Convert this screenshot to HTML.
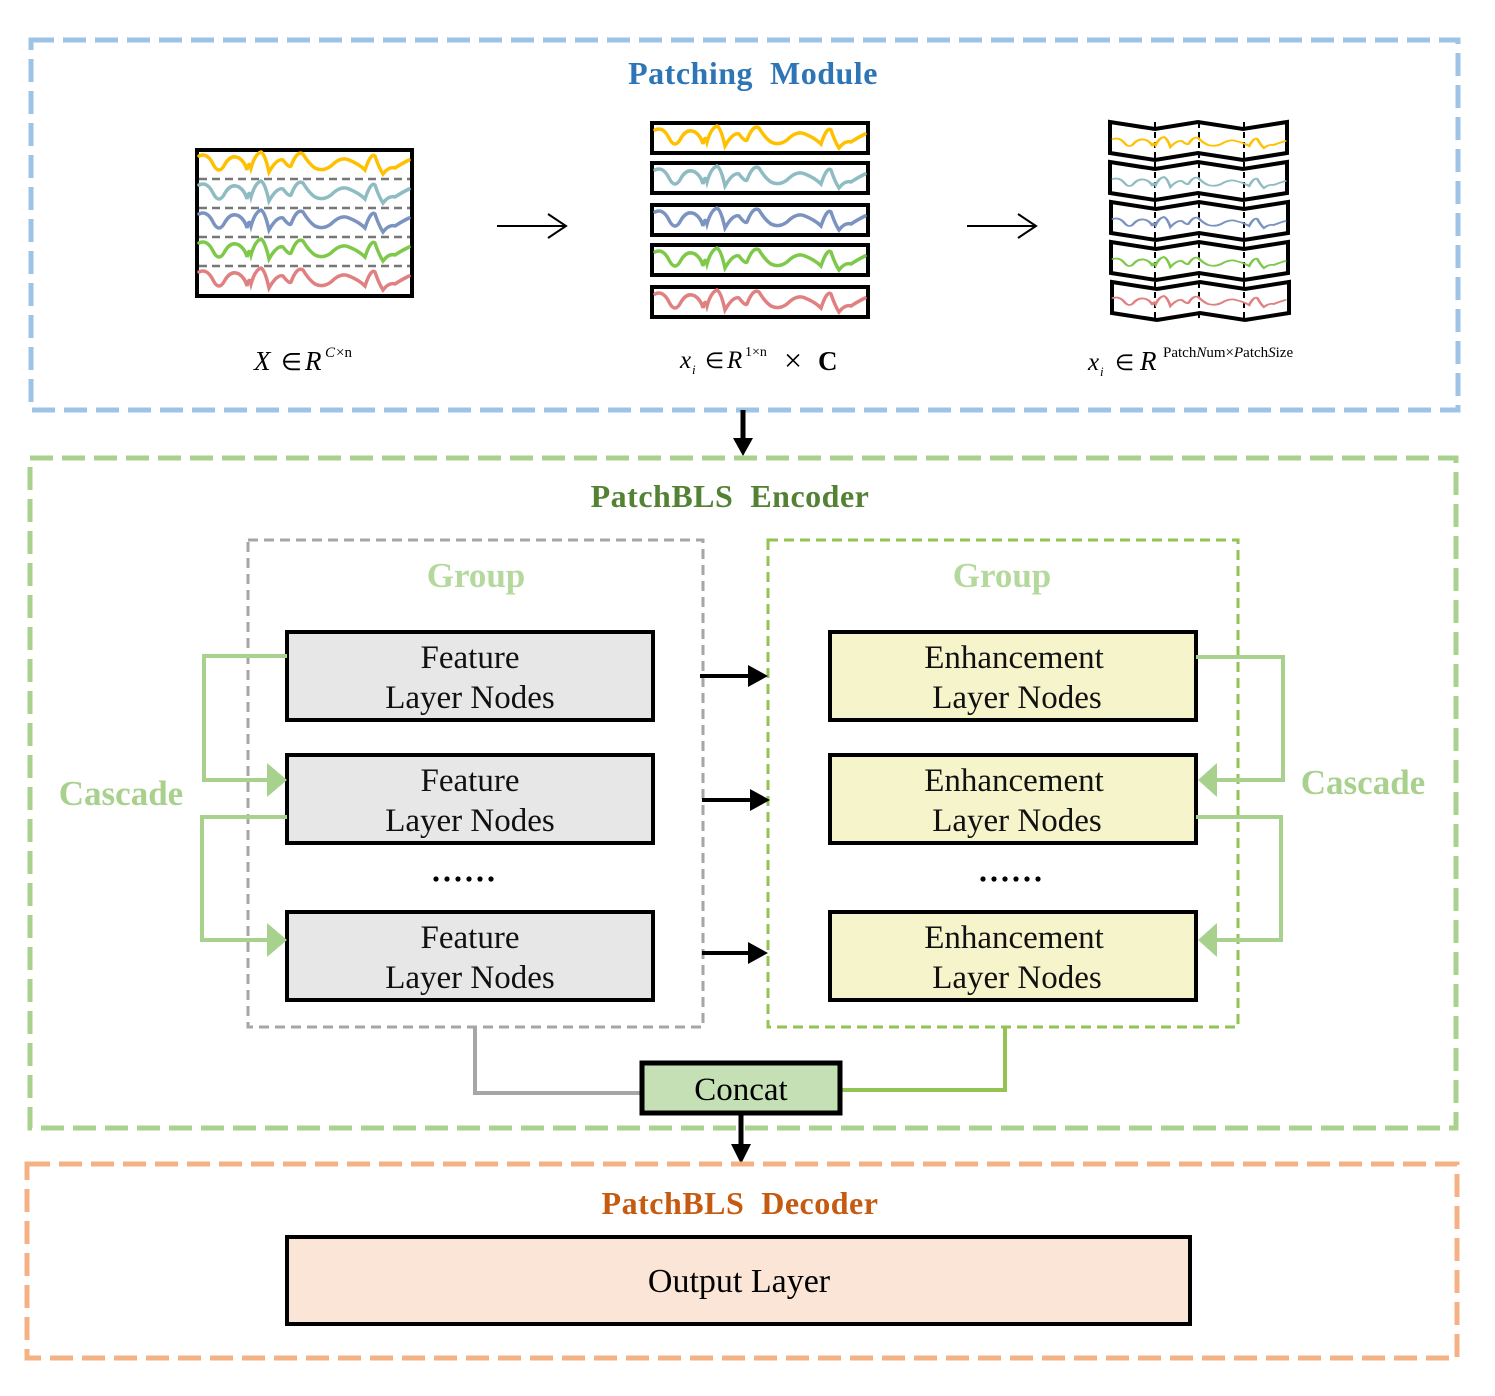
<!DOCTYPE html>
<html><head><meta charset="utf-8"><style>
html,body{margin:0;padding:0;background:#fff;}
svg{display:block;}
text{font-family:"Liberation Serif",serif;white-space:pre;}
</style></head><body>
<svg width="1495" height="1396" viewBox="0 0 1495 1396" xmlns="http://www.w3.org/2000/svg">
<defs>
<path id="wv" fill="none" stroke-width="3.5" stroke-linecap="round" d="M0,-8 Q8,-12 14,0 Q20,12 26,0 Q32,-10 40,-6 Q46,-2 48,6 Q50,-4 52,4 Q56,-10 62,-12 Q66,-10 70,8 Q78,-6 84,-4 Q90,4 92,2 Q98,-14 104,-10 Q110,0 116,4 Q124,8 132,2 Q142,-8 150,-4 Q160,0 166,6 Q172,-12 176,-8 Q180,4 184,10 Q190,2 196,4 Q202,0 210,-4"/>
</defs>

<rect x="31" y="40" width="1427" height="370" fill="none" stroke="#9dc3e6" stroke-width="5" stroke-dasharray="23 9"/>
<text x="753" y="84" text-anchor="middle" font-size="32" font-weight="bold" fill="#2e75b6" letter-spacing="0.5">Patching  Module</text>

<rect x="197" y="150" width="215" height="146" fill="#fff" stroke="#000" stroke-width="4"/>
<g stroke="#777" stroke-width="2.5" stroke-dasharray="8 5">
<line x1="199" y1="179" x2="410" y2="179"/><line x1="199" y1="208" x2="410" y2="208"/>
<line x1="199" y1="237" x2="410" y2="237"/><line x1="199" y1="266" x2="410" y2="266"/>
</g>
<use href="#wv" x="199" y="164" stroke="#ffc000"/>
<use href="#wv" x="199" y="193" stroke="#8fbcc3"/>
<use href="#wv" x="199" y="222" stroke="#7b93c0"/>
<use href="#wv" x="199" y="251" stroke="#7ec84a"/>
<use href="#wv" x="199" y="280" stroke="#e08080"/>

<line x1="497" y1="226" x2="565" y2="226" stroke="#000" stroke-width="2"/>
<path d="M548,214 L566,226 L548,238" fill="none" stroke="#000" stroke-width="2"/>
<line x1="967" y1="226" x2="1035" y2="226" stroke="#000" stroke-width="2"/>
<path d="M1018,214 L1036,226 L1018,238" fill="none" stroke="#000" stroke-width="2"/>

<g stroke="#000" stroke-width="4" fill="#fff">
<rect x="652" y="123" width="216" height="30"/><rect x="652" y="163" width="216" height="30"/>
<rect x="652" y="205" width="216" height="30"/><rect x="652" y="245" width="216" height="30"/>
<rect x="652" y="287" width="216" height="30"/>
</g>
<g transform="translate(655,0)">
<use href="#wv" x="0" y="138" stroke="#ffc000"/>
<use href="#wv" x="0" y="178" stroke="#8fbcc3"/>
<use href="#wv" x="0" y="220" stroke="#7b93c0"/>
<use href="#wv" x="0" y="260" stroke="#7ec84a"/>
<use href="#wv" x="0" y="302" stroke="#e08080"/>
</g>

<g stroke="#000" stroke-width="4" fill="#fff">
<path d="M1110,122 L1155,129 L1198,122 L1243,129 L1287,122 L1287,153 L1243,160 L1198,153 L1155,160 L1110,153 Z"/>
<path d="M1110,162 L1155,169 L1198,162 L1243,169 L1287,162 L1287,193 L1243,200 L1198,193 L1155,200 L1110,193 Z"/>
<path d="M1111,202 L1156,209 L1199,202 L1244,209 L1288,202 L1288,233 L1244,240 L1199,233 L1156,240 L1111,233 Z"/>
<path d="M1111,242 L1156,249 L1199,242 L1244,249 L1288,242 L1288,273 L1244,280 L1199,273 L1156,280 L1111,273 Z"/>
<path d="M1112,282 L1157,289 L1200,282 L1245,289 L1289,282 L1289,313 L1245,320 L1200,313 L1157,320 L1112,313 Z"/>
</g>
<g stroke="#000" stroke-width="2" stroke-dasharray="6 4">
<line x1="1155" y1="122" x2="1155" y2="322"/><line x1="1199" y1="122" x2="1199" y2="322"/><line x1="1244" y1="122" x2="1244" y2="322"/>
</g>
<g transform="translate(1113,0) scale(0.82,1)" stroke-width="4">
<use href="#wv" x="0" y="143" stroke="#ffc000" transform="translate(0,71.5) scale(1,0.5)"/>
<use href="#wv" x="0" y="183" stroke="#8fbcc3" transform="translate(0,91.5) scale(1,0.5)"/>
<use href="#wv" x="0" y="223" stroke="#7b93c0" transform="translate(0,111.5) scale(1,0.5)"/>
<use href="#wv" x="0" y="263" stroke="#7ec84a" transform="translate(0,131.5) scale(1,0.5)"/>
<use href="#wv" x="0" y="302" stroke="#e08080" transform="translate(0,151) scale(1,0.5)"/>
</g>

<text x="254" y="370" font-size="27" font-style="italic">X</text>
<text x="281" y="370" font-size="24">∈</text>
<text x="305" y="370" font-size="27" font-style="italic">R</text>
<text x="325" y="357" font-size="15" font-style="italic">C</text><text x="336" y="357" font-size="15">×n</text>

<text x="680" y="368" font-size="25" font-style="italic">x</text><text x="692" y="374" font-size="13" font-style="italic">i</text>
<text x="705" y="368" font-size="22">∈</text>
<text x="727" y="368" font-size="25" font-style="italic">R</text>
<text x="745" y="356" font-size="14">1×n</text>
<text x="784" y="371" font-size="32">×</text>
<text x="818" y="370" font-size="27" font-weight="bold">C</text>

<text x="1088" y="370" font-size="25" font-style="italic">x</text><text x="1100" y="376" font-size="13" font-style="italic">i</text>
<text x="1115" y="370" font-size="22">∈</text>
<text x="1140" y="370" font-size="27" font-style="italic">R</text>
<text x="1163" y="357" font-size="15">Patch<tspan font-style="italic">N</tspan>um×<tspan font-style="italic">P</tspan>atch<tspan font-style="italic">S</tspan>ize</text>

<line x1="743" y1="410" x2="743" y2="440" stroke="#000" stroke-width="5"/>
<path d="M733,438 L753,438 L743,456 Z" fill="#000"/>

<rect x="30" y="458" width="1426" height="670" fill="none" stroke="#a9d18e" stroke-width="5" stroke-dasharray="23 9"/>
<text x="730" y="507" text-anchor="middle" font-size="32" font-weight="bold" fill="#548235" letter-spacing="0.5">PatchBLS  Encoder</text>

<rect x="248" y="540" width="455" height="487" fill="none" stroke="#a6a6a6" stroke-width="3" stroke-dasharray="10 6"/>
<rect x="768" y="540" width="470" height="487" fill="none" stroke="#92c353" stroke-width="3" stroke-dasharray="10 6"/>
<text x="476" y="587" text-anchor="middle" font-size="35" font-weight="bold" fill="#b5d99c">Group</text>
<text x="1002" y="587" text-anchor="middle" font-size="35" font-weight="bold" fill="#b5d99c">Group</text>

<g stroke="#000" stroke-width="4" fill="#e7e7e7">
<rect x="287" y="632" width="366" height="88"/><rect x="287" y="755" width="366" height="88"/><rect x="287" y="912" width="366" height="88"/>
</g>
<g stroke="#000" stroke-width="4" fill="#f6f4cb">
<rect x="830" y="632" width="366" height="88"/><rect x="830" y="755" width="366" height="88"/><rect x="830" y="912" width="366" height="88"/>
</g>
<g font-size="33" text-anchor="middle" fill="#111">
<text x="470" y="668">Feature</text><text x="470" y="708">Layer Nodes</text>
<text x="470" y="791">Feature</text><text x="470" y="831">Layer Nodes</text>
<text x="470" y="948">Feature</text><text x="470" y="988">Layer Nodes</text>
<text x="1014" y="668">Enhancement</text><text x="1017" y="708">Layer Nodes</text>
<text x="1014" y="791">Enhancement</text><text x="1017" y="831">Layer Nodes</text>
<text x="1014" y="948">Enhancement</text><text x="1017" y="988">Layer Nodes</text>
</g>
<g fill="#000">
<circle cx="436" cy="879" r="2.6"/><circle cx="447" cy="879" r="2.6"/><circle cx="458" cy="879" r="2.6"/><circle cx="469" cy="879" r="2.6"/><circle cx="480" cy="879" r="2.6"/><circle cx="491" cy="879" r="2.6"/>
<circle cx="983" cy="879" r="2.6"/><circle cx="994" cy="879" r="2.6"/><circle cx="1005" cy="879" r="2.6"/><circle cx="1016" cy="879" r="2.6"/><circle cx="1027" cy="879" r="2.6"/><circle cx="1038" cy="879" r="2.6"/>
</g>

<g stroke="#000" stroke-width="4">
<line x1="700" y1="676" x2="752" y2="676"/><line x1="702" y1="800" x2="754" y2="800"/><line x1="702" y1="953" x2="752" y2="953"/>
</g>
<g fill="#000">
<path d="M748,665 L768,676 L748,687 Z"/><path d="M750,789 L770,800 L750,811 Z"/><path d="M748,942 L768,953 L748,964 Z"/>
</g>

<g stroke="#a9d18e" stroke-width="4" fill="none">
<path d="M287,656 L204,656 L204,780 L272,780"/>
<path d="M287,817 L202,817 L202,940 L272,940"/>
<path d="M1196,657 L1283,657 L1283,780 L1214,780"/>
<path d="M1196,817 L1281,817 L1281,940 L1214,940"/>
</g>
<g fill="#a9d18e">
<path d="M267,763 L287,780 L267,797 Z"/><path d="M267,923 L287,940 L267,957 Z"/>
<path d="M1217,763 L1198,780 L1217,797 Z"/><path d="M1217,923 L1198,940 L1217,957 Z"/>
</g>
<text x="121" y="805" text-anchor="middle" font-size="35" font-weight="bold" fill="#a9d18e">Cascade</text>
<text x="1363" y="794" text-anchor="middle" font-size="35" font-weight="bold" fill="#a9d18e">Cascade</text>

<path d="M475,1027 L475,1093 L641,1093" fill="none" stroke="#a6a6a6" stroke-width="4"/>
<path d="M1005,1027 L1005,1090 L840,1090" fill="none" stroke="#92c353" stroke-width="4"/>
<rect x="642" y="1063" width="198" height="50" fill="#c5e0b4" stroke="#000" stroke-width="5"/>
<text x="741" y="1100" text-anchor="middle" font-size="33">Concat</text>
<line x1="741" y1="1113" x2="741" y2="1146" stroke="#000" stroke-width="5"/>
<path d="M731,1144 L751,1144 L741,1164 Z" fill="#000"/>

<rect x="27" y="1164" width="1430" height="194" fill="none" stroke="#f4b183" stroke-width="5" stroke-dasharray="23 9"/>
<text x="740" y="1214" text-anchor="middle" font-size="32" font-weight="bold" fill="#c55a11" letter-spacing="0.5">PatchBLS  Decoder</text>
<rect x="287" y="1237" width="903" height="87" fill="#fbe5d6" stroke="#000" stroke-width="4"/>
<text x="739" y="1292" text-anchor="middle" font-size="34">Output Layer</text>
</svg>
</body></html>
